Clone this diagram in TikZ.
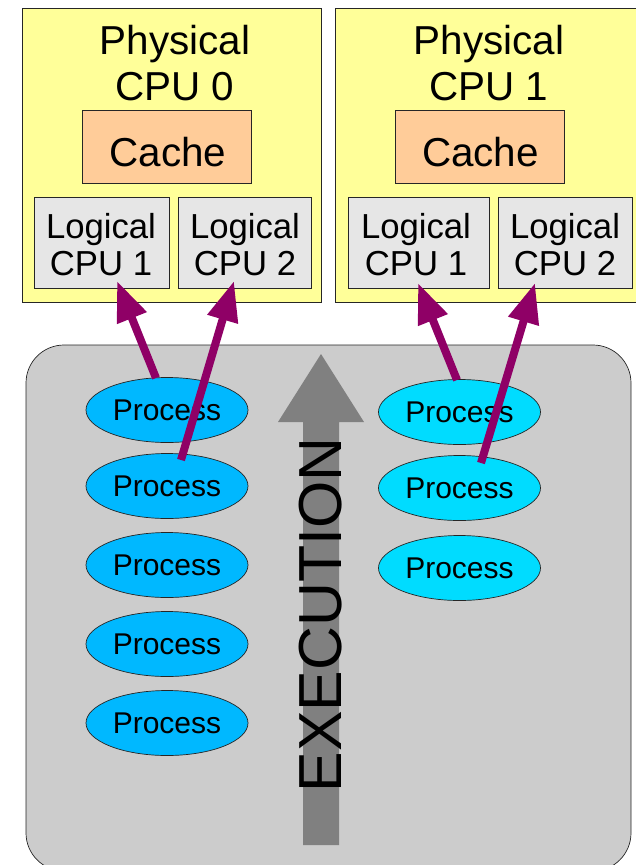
\documentclass[tikz,border=0pt]{standalone}
\usepackage{fontspec}
\setmainfont{Liberation Sans}
\usetikzlibrary{shapes.geometric,arrows.meta}
\definecolor{cpuy}{HTML}{FFFF99}
\definecolor{cachec}{HTML}{FFCC99}
\definecolor{logc}{HTML}{E6E6E6}
\definecolor{bgc}{HTML}{CCCCCC}
\definecolor{pzero}{HTML}{00B8FF}
\definecolor{pone}{HTML}{00DCFF}
\definecolor{arr}{HTML}{8F0066}
\definecolor{ex}{HTML}{808080}
\tikzset{x=1pt,y=-1pt,
 boxline/.style={draw=black!85,line width=0.7pt},
 txt/.style={inner sep=0pt,align=center,text=black},
 bigtxt/.style={txt,font=\fontsize{40.4}{46}\selectfont},
 logtxt/.style={txt,font=\fontsize{34.7}{37}\selectfont},
 proc/.style={boxline,ellipse,minimum width=162pt,minimum height=65pt,inner sep=0pt,font=\fontsize{30}{30}\selectfont},
 pa/.style={proc,fill=pzero},
 pb/.style={proc,fill=pone},
 link/.style={draw=arr,line width=8pt,-{Triangle[length=40pt,width=30pt]}},
}
\newcommand{\boxat}[6]{\path[boxline,fill=#6] (#2,#3) rectangle (#4,#5) node[pos=.5,inner sep=0pt] (#1) {};}
\begin{document}
\begin{tikzpicture}
\clip (0,0) rectangle (636,865);
\boxat{cpua}{22}{8}{321}{302}{cpuy}
\boxat{cpub}{335}{8}{640}{302}{cpuy}
\boxat{cachea}{82}{110}{251}{183}{cachec}
\boxat{cacheb}{395}{110}{564}{183}{cachec}
\boxat{la}{34}{197}{169}{288}{logc}
\boxat{lb}{178}{197}{311}{288}{logc}
\boxat{lc}{348}{197}{489}{288}{logc}
\boxat{ld}{498}{197}{632}{288}{logc}
\node[bigtxt] (ta) at (175,63) {Physical\\CPU 0};
\node[bigtxt] (tb) at (489,63) {Physical\\CPU 1};
\node[bigtxt] (ca) at (168,152) {Cache};
\node[bigtxt] (cb) at (480.5,152) {Cache};
\node[logtxt] at (101,245) (tla) {Logical\\CPU 1};
\node[logtxt] at (245,245) (tlb) {Logical\\CPU 2};
\node[logtxt] at (416,245) (tlc) {Logical\\CPU 1};
\node[logtxt] at (565,245) (tld) {Logical\\CPU 2};
\path[boxline,fill=bgc,rounded corners=38pt] (26,345) rectangle (631,871);
\fill[ex] (321,354) -- (364,422) -- (339,422) -- (339,845) -- (303,845) -- (303,422) -- (278,422) -- cycle;
\node[pa] (pa1) at (167,410) {Process};
\node[pa] (pa2) at (167,486) {Process};
\node[pa] (pa3) at (167,565) {Process};
\node[pa] (pa4) at (167,644) {Process};
\node[pa] (pa5) at (167,723) {Process};
\node[pb] (pb1) at (459.5,412) {Process};
\node[pb] (pb2) at (459.5,488) {Process};
\node[pb] (pb3) at (459.5,568) {Process};
\node[txt,rotate=90,font=\fontsize{60.8}{60}\selectfont] (exec) at (321,615) {EXECUTION};
\coordinate (sa) at (156,378);
\coordinate (sb) at (181,460);
\coordinate (sc) at (457,380);
\coordinate (sd) at (481,463);
\coordinate (ea) at (117,281);
\coordinate (eb) at (234,281);
\coordinate (ec) at (418,283);
\coordinate (ed) at (535,283);
\draw[link] (sa) -- (ea);
\draw[link] (sb) -- (eb);
\draw[link] (sc) -- (ec);
\draw[link] (sd) -- (ed);
\end{tikzpicture}
\end{document}
